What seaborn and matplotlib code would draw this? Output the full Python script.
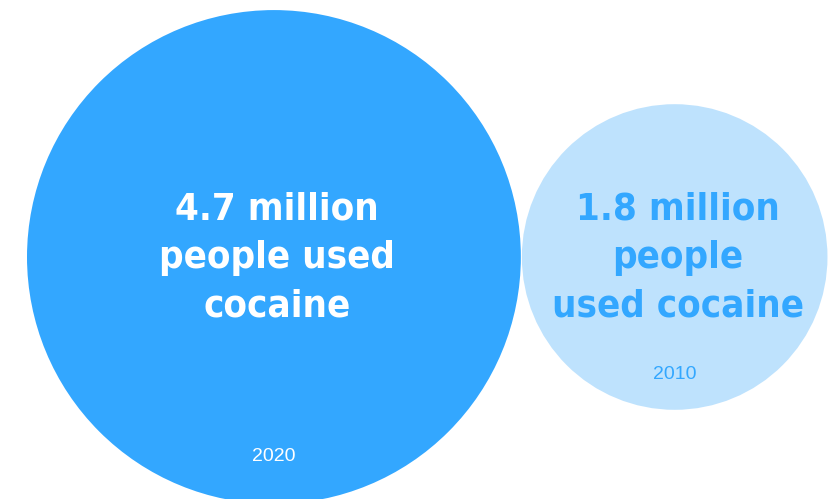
import numpy as np
import pandas as pd
import matplotlib.pyplot as plt
import seaborn as sns

years = ["2020", "2010"]
users_millions = [4.7, 1.8]
labels = ["4.7 million\npeople used\ncocaine", "1.8 million\npeople\nused cocaine"]
fill_colors = ["#33a7ff", "#bee2fd"]
text_colors = ["white", "#33a7ff"]

W, H, DPI = 837, 499, 100
PX_PER_ROOT = 113.9   # circle radius in px per sqrt(million)
LEFT, CY, GAP = 27, 257, 1

df = pd.DataFrame({"year": years, "value": users_millions})
df["r"] = PX_PER_ROOT * np.sqrt(df["value"])
df["x"] = LEFT + df["r"] + (2 * df["r"]).cumsum().shift(fill_value=0) + GAP * np.arange(len(df))
df["y"] = CY
# marker area in points^2
df["s"] = (2 * df["r"] * 72 / DPI) ** 2

sns.set_theme(style="white")
fig = plt.figure(figsize=(W / DPI, H / DPI), dpi=DPI)
ax = fig.add_axes([0, 0, 1, 1])

sns.scatterplot(data=df, x="x", y="y", hue="year", palette=dict(zip(years, fill_colors)),
                size="value", sizes=dict(zip(users_millions, df["s"])),
                linewidth=0, legend=False, ax=ax)

for (_, row), lab, tc in zip(df.iterrows(), labels, text_colors):
    ax.text(row["x"] + 3, row["y"] + 1, lab, ha="center", va="center", color=tc,
            fontsize=27.5, fontweight="bold", fontstretch="condensed", linespacing=1.45,
            family="DejaVu Sans")
    # year sits near the bottom of each circle
    ax.text(row["x"], row["y"] + 0.877 * row["r"] - 16.6, row["year"], ha="center", va="center",
            color=tc, fontsize=14, family=["Liberation Sans", "DejaVu Sans"])

ax.set_xlim(0, W)
ax.set_ylim(H, 0)
ax.axis("off")

fig.savefig("out.png", dpi=DPI)
